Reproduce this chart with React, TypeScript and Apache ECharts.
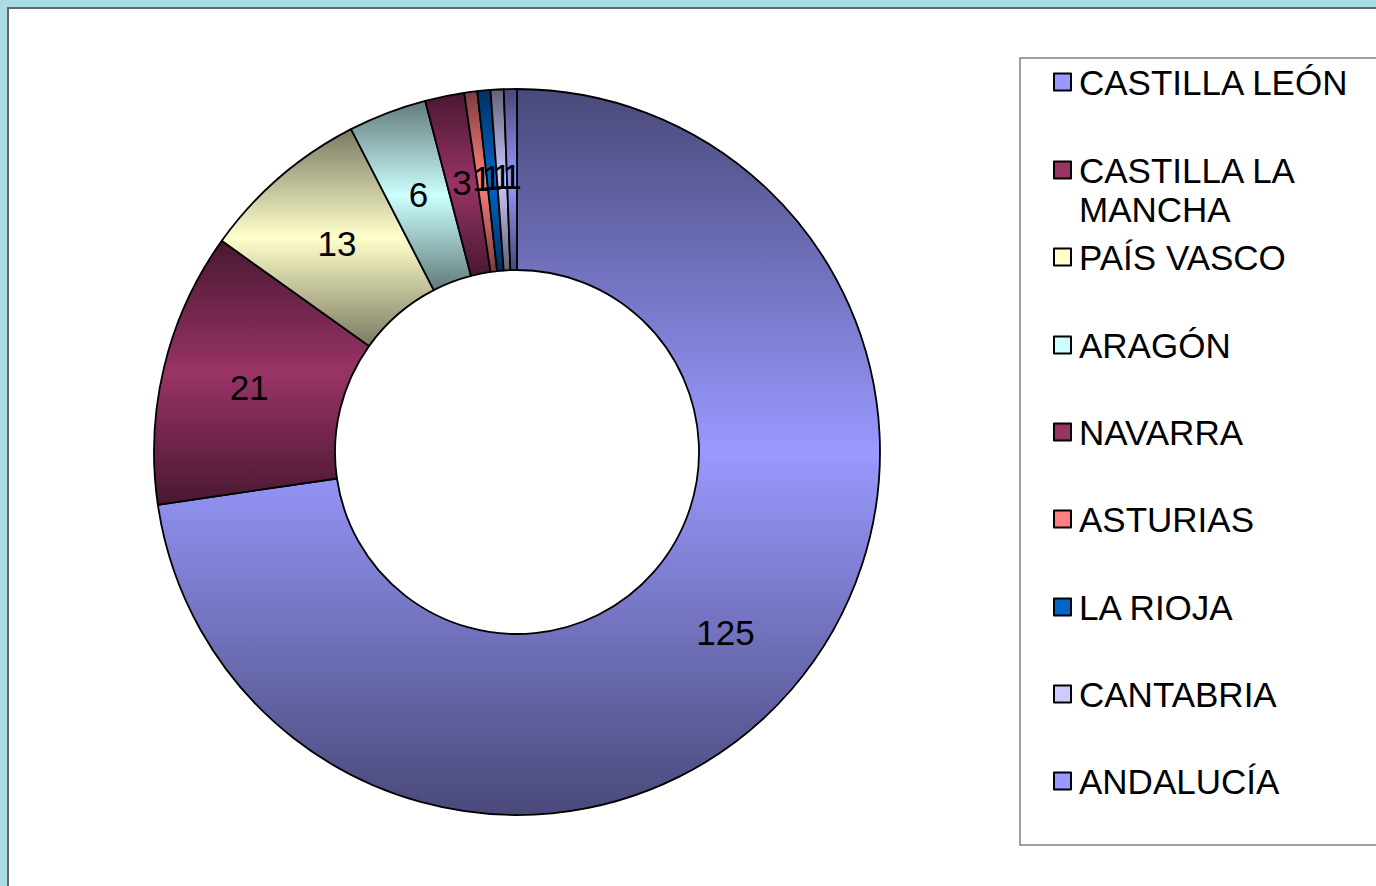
import React, { useEffect, useRef } from "react";
import * as echarts from "echarts";

const regions = [
  "CASTILLA LEÓN",
  "CASTILLA LA MANCHA",
  "PAÍS VASCO",
  "ARAGÓN",
  "NAVARRA",
  "ASTURIAS",
  "LA RIOJA",
  "CANTABRIA",
  "ANDALUCÍA",
];
const counts = [125, 21, 13, 6, 3, 1, 1, 1, 1];
const sliceColors = [
  "#9999FF",
  "#993366",
  "#FFFFCC",
  "#CCFFFF",
  "#993366",
  "#FF8080",
  "#0066CC",
  "#CCCCFF",
  "#9999FF",
];
const legendLines = [
  ["CASTILLA LEÓN"],
  ["CASTILLA LA", "MANCHA"],
  ["PAÍS VASCO"],
  ["ARAGÓN"],
  ["NAVARRA"],
  ["ASTURIAS"],
  ["LA RIOJA"],
  ["CANTABRIA"],
  ["ANDALUCÍA"],
];

const FONT = "'Liberation Sans', Arial, sans-serif";

function darken(hex: string, f: number) {
  const n = parseInt(hex.slice(1), 16);
  const r = Math.round(((n >> 16) & 255) * f);
  const g = Math.round(((n >> 8) & 255) * f);
  const b = Math.round((n & 255) * f);
  return `rgb(${r},${g},${b})`;
}

export default function App() {
  const ref = useRef<HTMLDivElement>(null);
  useEffect(() => {
    if (!ref.current) return;
    const chart = echarts.init(ref.current, undefined, { renderer: "svg" });

    const legendCenters = [82, 170, 257, 345, 432, 519, 607, 694, 781];
    const LH = 39;
    const legends = regions.map((name, i) => {
      const lines = legendLines[i];
      // keep the icon level with the first line: pad with blank lines above
      const padded =
        lines.length > 1
          ? [...Array(lines.length - 1).fill(" "), ...lines]
          : lines;
      const h = padded.length * LH;
      return {
        show: true,
        orient: "vertical",
        left: 1053,
        top: legendCenters[i] - h / 2,
        itemWidth: 17,
        itemHeight: 17,
        padding: 0,
        selectedMode: false,
        icon: "rect",
        formatter: () => padded.join("\n"),
        textStyle: {
          fontFamily: FONT,
          fontSize: 35,
          color: "#000",
          lineHeight: LH,
          padding: [0, 0, 0, 3],
        },
        data: [
          {
            name,
            itemStyle: {
              color: sliceColors[i],
              borderColor: "#000",
              borderWidth: 2,
            },
          },
        ],
      };
    });

    chart.setOption({
      animation: false,
      backgroundColor: "#a9dbe3",
      graphic: [
        {
          type: "rect",
          shape: { x: 8, y: 8, width: 1400, height: 900 },
          style: { fill: "#ffffff", stroke: "#666666", lineWidth: 2 },
          z: -10,
        },
        {
          type: "rect",
          shape: { x: 1020, y: 58, width: 400, height: 787 },
          style: { fill: "none", stroke: "#808080", lineWidth: 1.5 },
          z: -5,
        },
      ],
      legend: legends,
      series: [
        {
          type: "pie",
          center: [517, 452],
          radius: [182, 363],
          startAngle: 90,
          clockwise: true,
          avoidLabelOverlap: false,
          minShowLabelAngle: 0,
          labelLayout: { hideOverlap: false },
          label: {
            show: true,
            position: "inside",
            formatter: "{c}",
            fontFamily: FONT,
            fontSize: 35,
            color: "#000",
          },
          labelLine: { show: false },
          emphasis: { disabled: true },
          itemStyle: { borderColor: "#000", borderWidth: 1.8 },
          data: regions.map((name, i) => ({
            name,
            value: counts[i],
            itemStyle: {
              color: new echarts.graphic.LinearGradient(0, 0, 0, 1, [
                { offset: 0, color: darken(sliceColors[i], 0.48) },
                { offset: 0.5, color: sliceColors[i] },
                { offset: 1, color: darken(sliceColors[i], 0.48) },
              ]),
            },
          })),
        },
      ],
    });
    return () => chart.dispose();
  }, []);
  return (
    <div
      ref={ref}
      style={{ position: "fixed", left: 0, top: 0, width: 1376, height: 886 }}
    />
  );
}
